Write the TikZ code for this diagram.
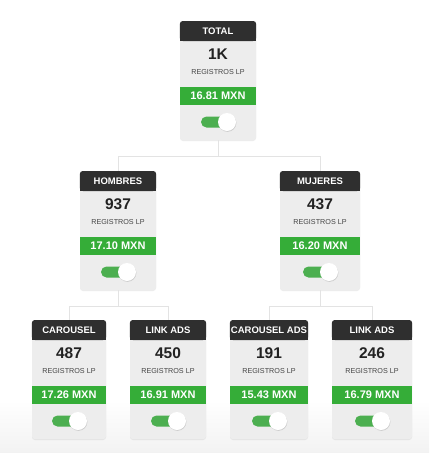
\documentclass[tikz,border=0pt]{standalone}
\usepackage{fontspec}
\setmainfont{Liberation Sans}
\usetikzlibrary{shadows}
\definecolor{cabeza}{HTML}{2F2F2F}
\definecolor{cuerpo}{HTML}{EDEDED}
\definecolor{verde}{HTML}{35AD38}
\definecolor{pista}{HTML}{4CAF50}
\definecolor{linea}{HTML}{E3E3E3}
\definecolor{texto}{HTML}{222222}
\definecolor{gris}{HTML}{454545}

\begin{document}
\begin{tikzpicture}[x=1pt,y=-1pt]
% Styles
\tikzstyle{tarjeta}=[fill=cuerpo, rounded corners=3pt, minimum height=119pt, inner sep=0pt,
  drop shadow={opacity=0.15, shadow xshift=0pt, shadow yshift=-0.8pt}]
\tikzstyle{titulo}=[text=white, font=\fontsize{9.5}{10}\selectfont\bfseries, inner sep=0pt]
\tikzstyle{cifra}=[text=texto, font=\fontsize{15.5}{16}\selectfont\bfseries, inner sep=0pt]
\tikzstyle{registro}=[text=gris, font=\fontsize{7.2}{8}\selectfont, inner sep=0pt]
\tikzstyle{banda}=[fill=verde, text=white, font=\fontsize{11}{12}\selectfont\bfseries,
  minimum height=18pt, inner sep=0pt]
\tikzstyle{perilla}=[circle, fill=white, minimum size=18pt, inner sep=0pt,
  drop shadow={opacity=0.3, shadow xshift=0.4pt, shadow yshift=-0.8pt}]
\tikzstyle{conector}=[draw=linea, line width=1pt]

% background
\useasboundingbox (0,0) rectangle (429,453);
\fill[white] (0,0) rectangle (429,400);
\shade[top color=white, bottom color=black!5] (0,400) rectangle (429,453);

% draw the cards
\foreach \id/\cx/\ty/\w/\tit/\num/\mxn in {
  total/218/21/76/TOTAL/1K/16.81,
  hombres/118/171/76/HOMBRES/937/17.10,
  mujeres/320/171/80/MUJERES/437/16.20,
  carousel/69/320/74/CAROUSEL/487/17.26,
  linkads/168/320/76/LINK ADS/450/16.91,
  carouselads/269/320/78/CAROUSEL ADS/191/15.43,
  linkadsb/372/320/80/LINK ADS/246/16.79} {
\node[tarjeta, minimum width=\w pt, anchor=north] (\id) at (\cx,\ty) {};
\fill[cabeza, rounded corners=3pt] (\id.north west) rectangle ([yshift=-20pt]\id.north east);
\fill[cabeza] ([yshift=-10pt]\id.north west) rectangle ([yshift=-20pt]\id.north east);
\node[titulo] (\id-tit) at ([yshift=-10pt]\id.north) {\tit};
\node[cifra] (\id-num) at ([yshift=-33pt]\id.north) {\num};
\node[registro] (\id-reg) at ([yshift=-51pt]\id.north) {REGISTROS LP};
\node[banda, minimum width=\w pt] (\id-mxn) at ([yshift=-75pt]\id.north) {\mxn{} MXN};
%toggle
\fill[pista, rounded corners=5.5pt] ([xshift=-17pt,yshift=-95.5pt]\id.north)
  rectangle ([xshift=10pt,yshift=-106.5pt]\id.north);
\node[perilla] (\id-sw) at ([xshift=9pt,yshift=-101pt]\id.north) {};
}

%connectors
\draw[conector] (total.south) -- ++(0,16) -| (hombres.north);
\draw[conector] (total.south) -- ++(0,16) -| (mujeres.north);
\draw[conector] (hombres.south) -- ++(0,16) -| (carousel.north);
\draw[conector] (hombres.south) -- ++(0,16) -| (linkads.north);
\draw[conector] (mujeres.south) -- ++(0,16) -| (carouselads.north);
\draw[conector] (mujeres.south) -- ++(0,16) -| (linkadsb.north);

\end{tikzpicture}
\end{document}
